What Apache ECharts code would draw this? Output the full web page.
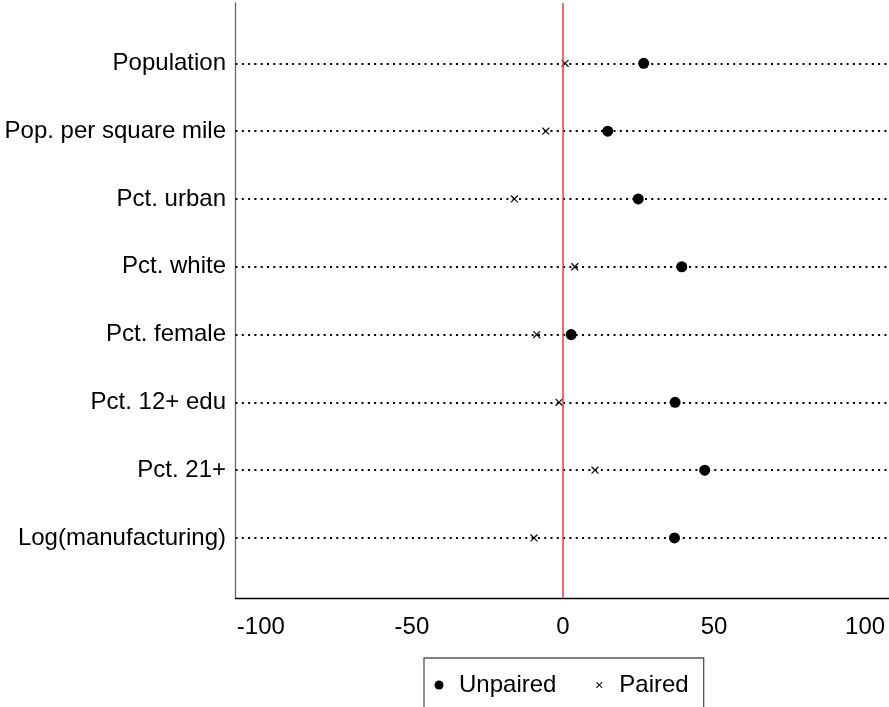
<!DOCTYPE html>
<html>
<head>
<meta charset="utf-8">
<script src="https://cdn.jsdelivr.net/npm/echarts@6/dist/echarts.min.js"></script>
<style>html,body{margin:0;padding:0;background:#fff;}#c{width:889px;height:707px;}</style>
</head>
<body>
<div id="c"></div>
<script>
var categories = ['Population', 'Pop. per square mile', 'Pct. urban', 'Pct. white', 'Pct. female', 'Pct. 12+ edu', 'Pct. 21+', 'Log(manufacturing)'];
var unpaired = [26.7, 14.8, 24.9, 39.3, 2.7, 37.1, 46.9, 36.9];
var paired = [0.7, -5.7, -16.1, 3.9, -8.7, -1.3, 10.6, -9.6];
var xTicks = [-100, -50, 0, 50, 100];
var seriesNames = ['Unpaired', 'Paired'];

var FONT = '"Liberation Sans", Arial, Helvetica, sans-serif';
var FS = 24;
var d = 1.0;
var crossPath = 'path://M0,0 M12,12 M2,2 L' + (2 + d) + ',2 L6,' + (6 - d) + ' L' + (10 - d) + ',2 L10,2 L10,' + (2 + d) +
  ' L' + (6 + d) + ',6 L10,' + (10 - d) + ' L10,10 L' + (10 - d) + ',10 L6,' + (6 + d) + ' L' + (2 + d) + ',10 L2,10 L2,' + (10 - d) +
  ' L' + (6 - d) + ',6 L2,' + (2 + d) + ' Z';

var rowIdx = categories.map(function (c, i) { return i + 1; });
var chart = echarts.init(document.getElementById('c'), null, {renderer: 'canvas'});
chart.setOption({
  animation: false,
  backgroundColor: '#fff',
  grid: {left: 235.5, top: 3, width: 655, height: 595.3, containLabel: false, outerBoundsMode: 'none'},
  xAxis: {
    type: 'value', min: -108.4, max: 108.4,
    axisLine: {show: true, onZero: false, lineStyle: {color: '#000', width: 1.3}},
    axisTick: {show: false},
    splitLine: {show: false},
    axisLabel: {customValues: xTicks, color: '#000', fontFamily: FONT, fontSize: FS, margin: 17,
      hideOverlap: false, formatter: function (v) { return String(v); }}
  },
  yAxis: {
    type: 'value', inverse: true, min: 0.11, max: 8.89,
    axisLine: {show: true, onZero: false, lineStyle: {color: '#666', width: 1.3}},
    axisTick: {show: false},
    splitLine: {show: false},
    axisLabel: {customValues: rowIdx, color: '#000', fontFamily: FONT, fontSize: FS, margin: 9.5,
      hideOverlap: false, formatter: function (v) { return categories[Math.round(v) - 1] || ''; }}
  },
  legend: {
    data: [{name: seriesNames[0], icon: 'circle'}, {name: seriesNames[1], icon: crossPath}],
    left: 424, top: 658, orient: 'horizontal',
    itemWidth: 30, itemHeight: 9, itemGap: 38.4,
    padding: [15, 15, 15, 10.5],
    borderColor: '#555', borderWidth: 1.3,
    textStyle: {color: '#000', fontFamily: FONT, fontSize: FS},
    selectedMode: false
  },
  series: [
    {
      type: 'scatter', name: '_lines', data: [], z: 1, silent: true,
      markLine: {
        silent: true, symbol: ['none', 'none'], label: {show: false}, animation: false,
        data: rowIdx.map(function (r) {
          return {yAxis: r, lineStyle: {color: '#000', width: 2, type: [2, 4.3]}};
        }).concat([{xAxis: 0, lineStyle: {color: '#ee3a3a', width: 1.5, type: 'solid'}}])
      }
    },
    {
      type: 'scatter', name: seriesNames[0], z: 3,
      symbol: 'circle', symbolSize: 11,
      itemStyle: {color: '#000', opacity: 1},
      data: unpaired.map(function (v, i) { return [v, i + 1]; })
    },
    {
      type: 'scatter', name: seriesNames[1], z: 3,
      symbol: crossPath, symbolSize: 11,
      itemStyle: {color: '#111', opacity: 1},
      data: paired.map(function (v, i) { return [v, i + 1]; })
    }
  ]
});
</script>
</body>
</html>
